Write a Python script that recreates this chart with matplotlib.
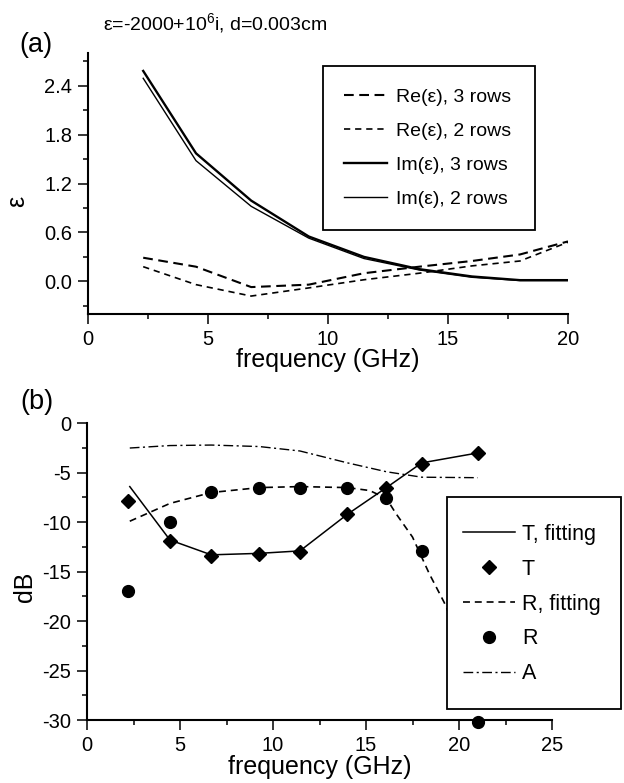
import matplotlib
matplotlib.use("Agg")
import matplotlib.pyplot as plt
from matplotlib.ticker import MultipleLocator
from matplotlib.patches import Rectangle

plt.rcParams['font.family'] = ['Liberation Sans', 'DejaVu Sans']
plt.rcParams['mathtext.fontset'] = 'custom'
plt.rcParams['mathtext.rm'] = 'Liberation Sans'
plt.rcParams['mathtext.it'] = 'Liberation Sans'
plt.rcParams['lines.scale_dashes'] = False
plt.rcParams['axes.unicode_minus'] = False

# ---- panel (a) data ----
freq_a = [2.3, 4.5, 6.8, 9.2, 11.5, 13.8, 16.0, 18.0, 20.0]
re_3rows = [0.29, 0.18, -0.07, -0.04, 0.10, 0.18, 0.25, 0.33, 0.49]
re_2rows = [0.18, -0.04, -0.18, -0.08, 0.02, 0.10, 0.19, 0.25, 0.48]
im_3rows = [2.58, 1.57, 0.99, 0.55, 0.30, 0.15, 0.06, 0.015, 0.015]
im_2rows = [2.49, 1.48, 0.92, 0.53, 0.28, 0.14, 0.05, 0.01, 0.01]

# ---- panel (b) data ----
freq_b = [2.2, 4.46, 6.68, 9.26, 11.45, 14.0, 16.1, 18.0, 21.0]
T_meas = [-7.9, -11.9, -13.4, -13.2, -13.0, -9.2, -6.5, -4.1, -3.0]
R_meas = [-17.0, -10.0, -6.9, -6.5, -6.5, -6.5, -7.6, -12.9, -30.2]
freq_Tfit = [2.3, 4.46, 6.68, 9.26, 11.45, 14.0, 16.1, 18.0, 21.0]
T_fit = [-6.4, -11.8, -13.3, -13.15, -12.9, -9.2, -6.5, -4.0, -3.0]
freq_Rfit = [2.3, 4.46, 6.68, 9.26, 11.45, 14.0, 15.2, 16.1, 16.6, 17.5, 18.4, 19.2, 20.1, 21.0]
R_fit = [-9.9, -8.1, -7.0, -6.5, -6.4, -6.5, -6.8, -7.6, -9.1, -11.5, -15.2, -18.1, -22.0, -26.0]
freq_A = [2.3, 4.46, 6.68, 9.26, 11.45, 14.0, 16.1, 18.0, 21.0]
A_vals = [-2.5, -2.25, -2.2, -2.35, -2.8, -4.0, -4.9, -5.45, -5.5]

W, H = 624, 783
fig = plt.figure(figsize=(W / 100, H / 100), dpi=100)

def style_axes(ax):
    for s in ('top', 'right'):
        ax.spines[s].set_visible(False)
    for s in ('left', 'bottom'):
        ax.spines[s].set_linewidth(1.5)
    ax.tick_params(which='major', direction='out', length=7, width=1.1,
                   labelsize=14.5, pad=4.5)
    ax.tick_params(which='minor', direction='out', length=3.6, width=1.1)

def framed_legend(ax, box_px, anchor_px, **kw):
    x0, y0, x1, y1 = box_px
    rect = Rectangle((x0 / W, 1 - y1 / H), (x1 - x0) / W, (y1 - y0) / H,
                     transform=fig.transFigure, facecolor='white',
                     edgecolor='black', linewidth=1.3, zorder=3)
    fig.patches.append(rect)
    h, l = ax.get_legend_handles_labels()
    leg = fig.legend(h, l, loc='upper left',
                     bbox_to_anchor=(anchor_px[0] / W, 1 - anchor_px[1] / H),
                     bbox_transform=fig.transFigure, frameon=False,
                     borderpad=0, borderaxespad=0, **kw)
    leg.set_zorder(4)
    return leg

# ---- panel (a) ----
ax1 = fig.add_axes([88 / W, 1 - 314 / H, 480 / W, 261 / H])
style_axes(ax1)
ax1.plot(freq_a, re_3rows, color='black', lw=1.5, dashes=(7, 4), label='Re(ε), 3 rows')
ax1.plot(freq_a, re_2rows, color='black', lw=1.2, dashes=(4.5, 3.5), label='Re(ε), 2 rows')
ax1.plot(freq_a, im_3rows, color='black', lw=1.7, label='Im(ε), 3 rows')
ax1.plot(freq_a, im_2rows, color='black', lw=1.0, label='Im(ε), 2 rows')
ax1.set_xlim(0, 20)
ax1.set_ylim(-0.4, 2.8)
ax1.xaxis.set_major_locator(MultipleLocator(5))
ax1.xaxis.set_minor_locator(MultipleLocator(2.5))
ax1.yaxis.set_minor_locator(MultipleLocator(0.3))
ax1.set_yticks([0.0, 0.6, 1.2, 1.8, 2.4])
ax1.set_yticklabels(['0.0', '0.6', '1.2', '1.8', '2.4'])
ax1.set_xlabel('frequency (GHz)', fontsize=18, labelpad=-1)
ax1.set_ylabel('ε', fontsize=18)
ax1.yaxis.set_label_coords(-0.122, 0.43)
framed_legend(ax1, (322.7, 65.7, 535, 230), (344, 88.5),
              fontsize=14, labelspacing=0.84, handlelength=2.2, handletextpad=0.45)

# ---- panel (b) ----
ax2 = fig.add_axes([87 / W, 1 - 720 / H, 465 / W, 296.7 / H])
style_axes(ax2)
ax2.plot(freq_Tfit, T_fit, color='black', lw=1.1, label='T, fitting')
ax2.plot(freq_b, T_meas, linestyle='none', marker='D', ms=7, color='black', label='T')
ax2.plot(freq_Rfit, R_fit, color='black', lw=1.2, dashes=(5, 3.5), label='R, fitting')
ax2.plot(freq_b, R_meas, linestyle='none', marker='o', ms=8.5, color='black',
         label='R', clip_on=False)
ax2.plot(freq_A, A_vals, color='black', lw=1.0, dashes=(7, 2.5, 1.5, 2.5), label='A')
ax2.set_xlim(0, 25)
ax2.set_ylim(-30, 0)
ax2.xaxis.set_major_locator(MultipleLocator(5))
ax2.xaxis.set_minor_locator(MultipleLocator(2.5))
ax2.yaxis.set_major_locator(MultipleLocator(5))
ax2.yaxis.set_minor_locator(MultipleLocator(2.5))
ax2.set_xlabel('frequency (GHz)', fontsize=18, labelpad=0)
ax2.set_ylabel('dB', fontsize=18)
ax2.yaxis.set_label_coords(-0.108, 0.45)
framed_legend(ax2, (446.7, 496.7, 620.7, 709), (463, 524),
              fontsize=15.5, labelspacing=0.64, handlelength=2.42, handletextpad=0.31)

# ---- annotations ----
fig.text(103 / W, 1 - 23 / H, r'ε=-2000+10$^{6}$i, d=0.003cm', fontsize=14,
         ha='left', va='center')
fig.text(19 / W, 1 - 45 / H, '(a)', fontsize=19.5, ha='left', va='center')
fig.text(20 / W, 1 - 402 / H, '(b)', fontsize=19.5, ha='left', va='center')

fig.savefig('out.png', dpi=100)
